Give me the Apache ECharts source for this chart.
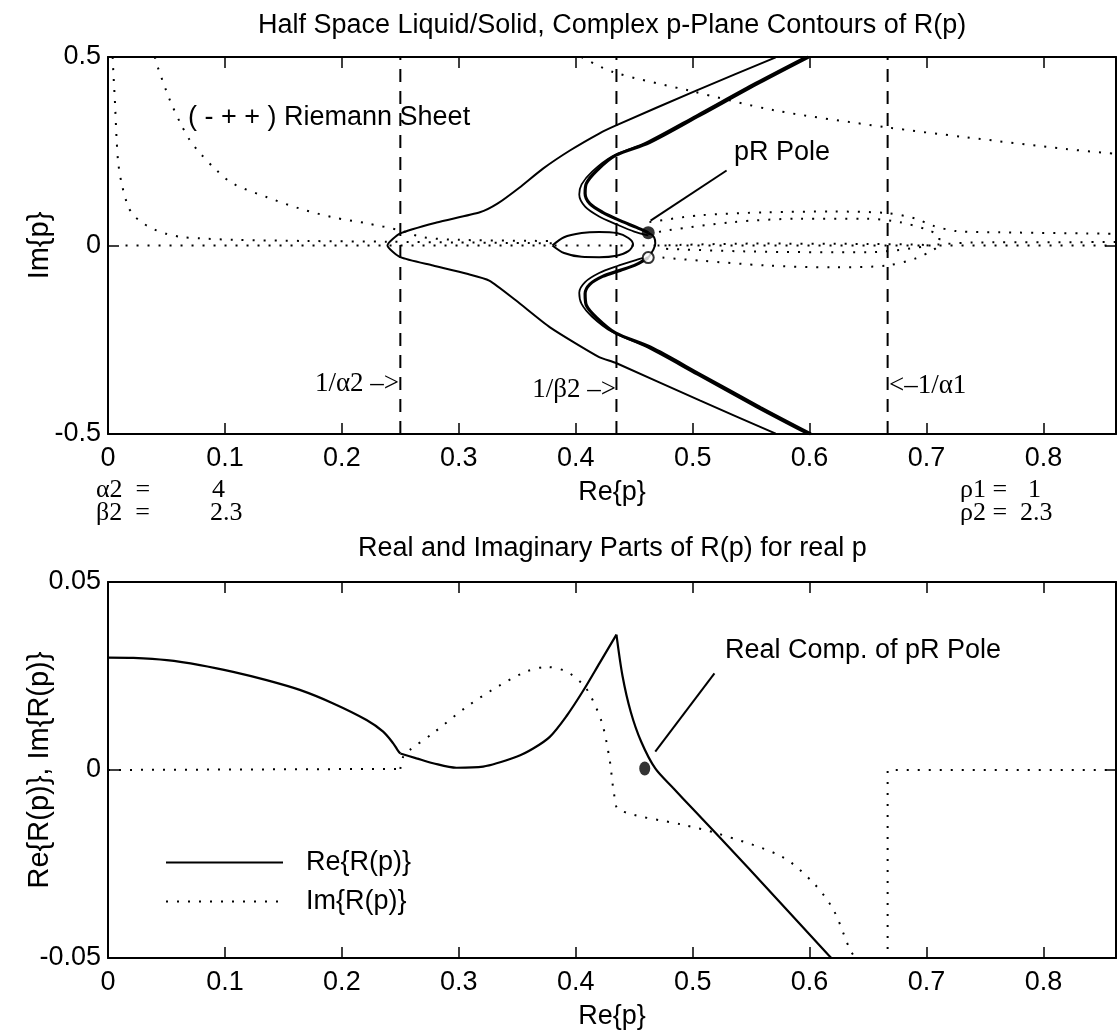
<!DOCTYPE html>
<html><head><meta charset="utf-8">
<script src="https://cdn.jsdelivr.net/npm/echarts@6/dist/echarts.min.js"></script>
<style>html,body{margin:0;padding:0;background:#fff}#c{width:1118px;height:1036px}</style>
</head><body><div id="c"></div><script>
// ---------- tick labels ----------
const xTickLabels = ['0','0.1','0.2','0.3','0.4','0.5','0.6','0.7','0.8'];
const topYTickLabels = ['-0.5','0','0.5'];
const botYTickLabels = ['-0.05','0','0.05'];

// ---------- reference lines (Re{p}) ----------
const invAlpha2 = 0.25, invBeta2 = 0.4348, invAlpha1 = 0.6667;

// ---------- top plot: solid contours [Re{p}, Im{p}] ----------
const outerContour = [[0.571,0.499],[0.503,0.411],[0.434,0.318],[0.42,0.297],[0.395,0.252],[0.372,0.204],[0.352,0.154],[0.333,0.111],[0.318,0.088],[0.281,0.061],[0.25,0.032],[0.239,0],[0.25,-0.031],[0.278,-0.053],[0.307,-0.075],[0.326,-0.093],[0.349,-0.146],[0.378,-0.217],[0.42,-0.296],[0.434,-0.311],[0.506,-0.411],[0.571,-0.499]];
const innerUpperA = [[0.599,0.5],[0.557,0.432],[0.506,0.345],[0.463,0.273],[0.434,0.239],[0.418,0.199],[0.409,0.164],[0.408,0.138],[0.412,0.111],[0.423,0.088],[0.438,0.066],[0.452,0.048],[0.462,0.034]];
const innerUpperB = [[0.596,0.5],[0.554,0.432],[0.503,0.345],[0.46,0.273],[0.431,0.236],[0.414,0.196],[0.405,0.162],[0.403,0.135],[0.408,0.103],[0.42,0.077],[0.435,0.056],[0.45,0.037],[0.462,0.027]];
const innerLowerA = [[0.601,-0.5],[0.558,-0.43],[0.507,-0.343],[0.464,-0.27],[0.434,-0.232],[0.418,-0.192],[0.409,-0.158],[0.408,-0.128],[0.412,-0.103],[0.423,-0.082],[0.438,-0.066],[0.452,-0.05],[0.462,-0.032]];
const innerLowerB = [[0.598,-0.5],[0.555,-0.43],[0.504,-0.343],[0.461,-0.27],[0.431,-0.229],[0.414,-0.189],[0.405,-0.155],[0.403,-0.125],[0.408,-0.097],[0.42,-0.073],[0.435,-0.055],[0.45,-0.04],[0.458,-0.033]];
const poleLoop = [[0.462,0.034],[0.467,0.022],[0.468,0.005],[0.466,-0.013],[0.462,-0.032]];
const smallLens = [[0.38,0],[0.39,0.022],[0.405,0.033],[0.42,0.036],[0.435,0.033],[0.445,0.02],[0.449,0.003],[0.445,-0.015],[0.435,-0.027],[0.42,-0.031],[0.405,-0.03],[0.39,-0.02],[0.38,0]];

// ---------- top plot: dotted contours ----------
const dotLeftA = [[0.004,0.5],[0.0045,0.464],[0.006,0.377],[0.0074,0.279],[0.0088,0.218],[0.0117,0.164],[0.0174,0.102],[0.023,0.077],[0.03,0.059],[0.0387,0.044],[0.05,0.031],[0.064,0.022],[0.079,0.019],[0.107,0.015],[0.17,0.012],[0.24,0.01],[0.3,0.008],[0.38,0.006]];
const dotLeftB = [[0.04,0.5],[0.043,0.469],[0.053,0.385],[0.062,0.324],[0.07,0.279],[0.079,0.244],[0.093,0.199],[0.107,0.164],[0.136,0.128],[0.164,0.098],[0.192,0.075],[0.221,0.059],[0.25,0.04],[0.269,0.022],[0.3,0.015],[0.38,0.012]];
const dotZero = [[0.015,0],[0.862,0]];
const dotUpperRight = [[0.405,0.5],[0.432,0.46],[0.497,0.411],[0.571,0.358],[0.665,0.314],[0.734,0.287],[0.819,0.256],[0.862,0.243]];
const dotLobe = [[0.462,0.03],[0.478,0.04],[0.534,0.062],[0.591,0.071],[0.649,0.071],[0.677,0.062],[0.702,0.04],[0.711,0.022],[0.71,0],[0.705,-0.013],[0.691,-0.034],[0.666,-0.053],[0.62,-0.058],[0.563,-0.053],[0.506,-0.04],[0.47,-0.031]];
const dotOuterLobe = [[0.463,0.062],[0.506,0.08],[0.563,0.088],[0.62,0.09],[0.666,0.086],[0.691,0.071],[0.705,0.053],[0.726,0.038],[0.762,0.035],[0.862,0.031]];
const dotInnerLobe = [[0.47,0],[0.55,0.005],[0.65,0.004],[0.7,0],[0.65,-0.018],[0.55,-0.016],[0.47,-0.008]];
const dotRightRow = [[0.7,0],[0.74,0.008],[0.862,0.009]];

// ---------- top plot: poles & leader ----------
const poleFilled = [[0.462,0.034]];
const poleOpen = [[0.462,-0.032]];
const poleLeaderTop = [[0.464,0.066],[0.529,0.199]];

// ---------- bottom plot: R(p) for real p ----------
const reLeft = [[0,0.0299],[0.0217,0.0298],[0.0502,0.0292],[0.0786,0.0279],[0.107,0.0261],[0.1356,0.0239],[0.164,0.0213],[0.1926,0.0177],[0.2211,0.0133],[0.2353,0.0102],[0.2439,0.0071],[0.2481,0.0051],[0.25,0.0044]];
const reMid = [[0.25,0.0044],[0.2638,0.0031],[0.278,0.0018],[0.298,0.0006],[0.3208,0.0009],[0.3493,0.0035],[0.3636,0.0057],[0.3778,0.0088],[0.392,0.0143],[0.4062,0.021],[0.4205,0.0285],[0.4348,0.036]];
const reRight = [[0.4348,0.036],[0.44,0.025],[0.447,0.0155],[0.456,0.0075],[0.468,0.0004],[0.4833,-0.0048],[0.5,-0.0103],[0.548,-0.0262],[0.6145,-0.0487],[0.62,-0.0505]];
const imFlat = [[0,0],[0.25,0.0003]];
const imHump = [[0.25,0.0003],[0.2524,0.0035],[0.258,0.0053],[0.278,0.0098],[0.3066,0.0168],[0.335,0.0225],[0.358,0.0262],[0.375,0.0274],[0.392,0.0262],[0.406,0.0228],[0.4126,0.0198],[0.4226,0.0124],[0.429,0.0027],[0.4327,-0.0062],[0.437,-0.0106],[0.492,-0.0146],[0.5205,-0.0168],[0.576,-0.023],[0.6034,-0.0301],[0.6204,-0.0372],[0.634,-0.0474],[0.64,-0.0505]];
const imStep = [[0.6667,-0.0505],[0.6667,0],[0.862,0]];
const poleReal = [[0.459,0.0004]];
const poleLeaderBottom = [[0.468,0.0049],[0.5186,0.0257]];

// ---------------------------------------------------------------
const SANS = '"Liberation Sans", Arial, Helvetica, sans-serif';
const SERIF = '"Liberation Serif", "Times New Roman", serif';
const FS = 27;
const XMIN = 0, XMAX = 0.862;
const PLOT_CX = 612;

function fmtFrom(labels, min, step) {
  return v => {
    const i = Math.round((v - min) / step);
    return Math.abs(v - (min + i * step)) < step * 1e-4 && labels[i] !== undefined ? labels[i] : '';
  };
}
function xAxisDef(g, pos, showLabel, name) {
  return {
    type: 'value', gridIndex: g, position: pos, min: XMIN, max: XMAX, interval: 0.1,
    axisLine: { onZero: false, lineStyle: { color: '#000', width: 2 } },
    axisTick: { inside: true, length: 11, lineStyle: { color: '#000', width: 1.5 } },
    axisLabel: { show: showLabel, color: '#000', fontSize: FS, fontFamily: SANS, margin: 11,
                 formatter: fmtFrom(xTickLabels, 0, 0.1) },
    splitLine: { show: false },
    name: name || '', nameLocation: 'middle', nameGap: 45, nameMoveOverlap: false,
    nameTextStyle: { color: '#000', fontSize: FS, fontFamily: SANS }
  };
}
function yAxisDef(g, pos, showLabel, min, max, step, labels, name) {
  return {
    type: 'value', gridIndex: g, position: pos, min, max, interval: step,
    axisLine: { onZero: false, lineStyle: { color: '#000', width: 2 } },
    axisTick: { inside: true, length: 11, lineStyle: { color: '#000', width: 1.5 } },
    axisLabel: { show: showLabel, color: '#000', fontSize: FS, fontFamily: SANS, margin: 7,
                 formatter: fmtFrom(labels, min, step) },
    splitLine: { show: false },
    name: name || '', nameLocation: 'middle', nameRotate: 90, nameGap: 54, nameMoveOverlap: false,
    nameTextStyle: { color: '#000', fontSize: 29, fontFamily: SANS }
  };
}

const DOT = [2, 9], DASH = [13, 9];
function line(name, data, g, width, type, extra) {
  return Object.assign({
    name, type: 'line', data, xAxisIndex: g * 2, yAxisIndex: g * 2,
    symbol: 'none', showSymbol: false, silent: true, animation: false, clip: true,
    lineStyle: { color: '#000', width, type: type || 'solid' }, itemStyle: { color: '#000' }
  }, extra || {});
}
function vline(name, x, g, lo, hi) {
  return line(name, [[x, lo], [x, hi]], g, 2, DASH);
}

const series = [
  // top plot
  vline('1/α2', invAlpha2, 0, -0.5, 0.5),
  vline('1/β2', invBeta2, 0, -0.5, 0.5),
  vline('1/α1', invAlpha1, 0, -0.5, 0.5),
  line('outer contour', outerContour, 0, 2, 'solid', { smooth: 0.2 }),
  line('inner upper a', innerUpperA, 0, 3.2, 'solid', { smooth: 0.3 }),
  line('inner upper b', innerUpperB, 0, 1.8, 'solid', { smooth: 0.3 }),
  line('inner lower a', innerLowerA, 0, 3.2, 'solid', { smooth: 0.3 }),
  line('inner lower b', innerLowerB, 0, 1.8, 'solid', { smooth: 0.3 }),
  line('pole loop', poleLoop, 0, 2, 'solid', { smooth: 0.4 }),
  line('small lens', smallLens, 0, 2, 'solid', { smooth: 0.3 }),
  line('dot left a', dotLeftA, 0, 2, DOT, { smooth: 0.3 }),
  line('dot left b', dotLeftB, 0, 2, DOT, { smooth: 0.3 }),
  line('dot zero', dotZero, 0, 2, DOT),
  line('dot upper right', dotUpperRight, 0, 2, DOT, { smooth: 0.3 }),
  line('dot lobe', dotLobe, 0, 2, DOT, { smooth: 0.3 }),
  line('dot outer lobe', dotOuterLobe, 0, 2, DOT, { smooth: 0.3 }),
  line('dot inner lobe', dotInnerLobe, 0, 2, DOT, { smooth: 0.3 }),
  line('dot right row', dotRightRow, 0, 2, DOT, { smooth: 0.3 }),
  line('pR leader', poleLeaderTop, 0, 2),
  { name: 'pR pole', type: 'scatter', xAxisIndex: 0, yAxisIndex: 0, data: poleFilled, symbol: 'circle',
    symbolSize: 13, itemStyle: { color: '#000' }, silent: true, animation: false, z: 5 },
  { name: 'pR conj', type: 'scatter', xAxisIndex: 0, yAxisIndex: 0, data: poleOpen, symbol: 'circle',
    symbolSize: 11, itemStyle: { color: '#fff', borderColor: '#000', borderWidth: 2 }, silent: true, animation: false, z: 5 },
  // bottom plot
  line('Re{R(p)}', reLeft, 1, 2.2, 'solid', { smooth: 0.3 }),
  line('Re{R(p)}', reMid, 1, 2.2, 'solid', { smooth: 0.3 }),
  line('Re{R(p)}', reRight, 1, 2.2, 'solid', { smooth: 0.3 }),
  line('Im{R(p)}', imFlat, 1, 2, DOT),
  line('Im{R(p)}', imHump, 1, 2, DOT, { smooth: 0.3 }),
  line('Im{R(p)}', imStep, 1, 2, DOT),
  line('pole leader bottom', poleLeaderBottom, 1, 2),
  { name: 'pole real', type: 'scatter', xAxisIndex: 2, yAxisIndex: 2, data: poleReal, symbol: 'circle',
    symbolSize: [11, 14], itemStyle: { color: '#000' }, silent: true, animation: false, z: 5 }
];

function txt(text, x, y, font, align) {
  return { type: 'text', x, y, silent: true,
    style: { text, font, fill: '#000', textAlign: align || 'left', textVerticalAlign: 'middle' } };
}
const F_SANS = FS + 'px ' + SANS;
const F_SERIF = '27px ' + SERIF;
const F_SERIF_S = '26px ' + SERIF;

// centre titles over the plot area
const mctx = document.createElement('canvas').getContext('2d');
mctx.font = F_SANS;
function centredLeft(text) { return Math.round(PLOT_CX - mctx.measureText(text).width / 2); }
const title1 = 'Half Space Liquid/Solid, Complex p-Plane Contours of R(p)';
const title2 = 'Real and Imaginary Parts of R(p) for real p';

const option = {
  backgroundColor: '#fff',
  animation: false,
  title: [
    { text: title1, left: centredLeft(title1), top: 12, padding: 0,
      textStyle: { color: '#000', fontSize: FS, fontWeight: 'normal', fontFamily: SANS } },
    { text: title2, left: centredLeft(title2), top: 535, padding: 0,
      textStyle: { color: '#000', fontSize: FS, fontWeight: 'normal', fontFamily: SANS } }
  ],
  grid: [
    { left: 108, top: 57, width: 1008, height: 377, outerBoundsMode: 'none', containLabel: false },
    { left: 108, top: 582, width: 1008, height: 376, outerBoundsMode: 'none', containLabel: false }
  ],
  xAxis: [
    xAxisDef(0, 'bottom', true, 'Re{p}'), xAxisDef(0, 'top', false),
    xAxisDef(1, 'bottom', true, 'Re{p}'), xAxisDef(1, 'top', false)
  ],
  yAxis: [
    yAxisDef(0, 'left', true, -0.5, 0.5, 0.5, topYTickLabels, 'Im{p}'),
    yAxisDef(0, 'right', false, -0.5, 0.5, 0.5, topYTickLabels),
    yAxisDef(1, 'left', true, -0.05, 0.05, 0.05, botYTickLabels, 'Re{R(p)}, Im{R(p)}'),
    yAxisDef(1, 'right', false, -0.05, 0.05, 0.05, botYTickLabels)
  ],
  legend: {
    data: ['Re{R(p)}', 'Im{R(p)}'], orient: 'vertical', left: 165, top: 849,
    itemWidth: 117, itemHeight: 12, itemGap: 12, padding: 0,
    itemStyle: { opacity: 0 },
    textStyle: { color: '#000', fontSize: FS, fontFamily: SANS, padding: [0, 0, 0, 18] },
    selectedMode: false
  },
  series,
  graphic: [
    txt('( - + + ) Riemann Sheet', 188, 118, F_SANS),
    txt('pR Pole', 734, 153, F_SANS),
    txt('1/α2 –>', 399, 384, F_SERIF, 'right'),
    txt('1/β2 –>', 616, 390, F_SERIF, 'right'),
    txt('<–1/α1', 889, 386, F_SERIF),
    txt('α2  =', 96, 490, F_SERIF_S), txt('4', 212, 490, F_SERIF_S),
    txt('β2  =', 96, 513, F_SERIF_S), txt('2.3', 210, 513, F_SERIF_S),
    txt('ρ1 =', 960, 490, F_SERIF_S), txt('1', 1028, 490, F_SERIF_S),
    txt('ρ2 =', 960, 513, F_SERIF_S), txt('2.3', 1020, 513, F_SERIF_S),
    txt('Real Comp. of pR Pole', 725, 651, F_SANS)
  ]
};
const chart = echarts.init(document.getElementById('c'), null, { renderer: 'canvas' });
chart.setOption(option);
</script></body></html>
